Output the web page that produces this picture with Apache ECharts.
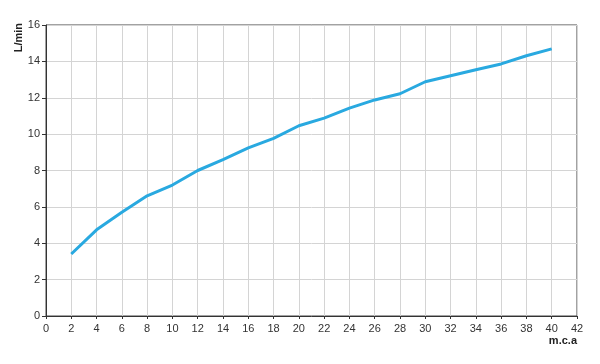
<!DOCTYPE html>
<html lang="en">
<head>
    <meta charset="UTF-8">
    <title>L/min vs m.c.a</title>
    <script src="https://cdn.jsdelivr.net/npm/echarts@6/dist/echarts.min.js"></script>
    <style>
        html, body { margin: 0; padding: 0; background: #fff; }
        #chart { width: 600px; height: 364px; }
    </style>
</head>
<body>
    <div id="chart"></div>
    <script>
        // pressure (m.c.a) vs flow (L/min)
        const mcaValues = [2, 4, 6, 8, 10, 12, 14, 16, 18, 20, 22, 24, 26, 28, 30, 32, 34, 36, 38, 40];
        const flowValues = [3.41, 4.74, 5.70, 6.61, 7.20, 8.00, 8.60, 9.24, 9.77, 10.46, 10.88, 11.43, 11.88, 12.22, 12.88, 13.21, 13.54, 13.86, 14.31, 14.69];
        const xName = 'm.c.a';
        const yName = 'L/min';

        let myEchart = echarts.init(document.querySelector('#chart'));
        let labelFont = { color: '#333', fontSize: 11, fontFamily: 'Liberation Sans' };

        let option = {
            animation: false,
            grid: {
                left: 46,
                right: 23,
                top: 25,
                bottom: 48,
                outerBoundsMode: 'none',
                show: true,
                borderColor: '#444',
                borderWidth: 1
            },
            xAxis: {
                type: 'value',
                min: 0,
                max: 42,
                interval: 2,
                name: xName,
                nameLocation: 'end',
                nameGap: 0,
                nameTextStyle: {
                    fontFamily: 'Liberation Sans',
                    fontWeight: 'bold',
                    fontSize: 11,
                    color: '#222',
                    align: 'right',
                    verticalAlign: 'top',
                    padding: [19, 0, 0, 0]
                },
                axisLine: { lineStyle: { color: '#333', width: 1 } },
                axisTick: { show: true, length: 3, lineStyle: { color: '#333' } },
                axisLabel: Object.assign({ margin: 7 }, labelFont),
                splitLine: { show: true, lineStyle: { color: '#d4d4d4', width: 1 } }
            },
            yAxis: {
                type: 'value',
                min: 0,
                max: 16,
                interval: 2,
                name: yName,
                nameLocation: 'end',
                nameRotate: 90,
                nameGap: 2,
                nameTextStyle: {
                    fontFamily: 'Liberation Sans',
                    fontWeight: 'bold',
                    fontSize: 11,
                    color: '#222',
                    align: 'right',
                    verticalAlign: 'bottom',
                    padding: [0, 0, 22, 0]
                },
                axisLine: { show: true, lineStyle: { color: '#333', width: 1 } },
                axisTick: { show: true, length: 4, lineStyle: { color: '#333' } },
                axisLabel: Object.assign({ margin: 6 }, labelFont),
                splitLine: { show: true, lineStyle: { color: '#d4d4d4', width: 1 } }
            },
            series: [{
                type: 'line',
                data: mcaValues.map((x, i) => [x, flowValues[i]]),
                showSymbol: false,
                lineStyle: { color: '#29a9e0', width: 3 },
                itemStyle: { color: '#29a9e0' }
            }]
        };
        myEchart.setOption(option);
    </script>
</body>
</html>
